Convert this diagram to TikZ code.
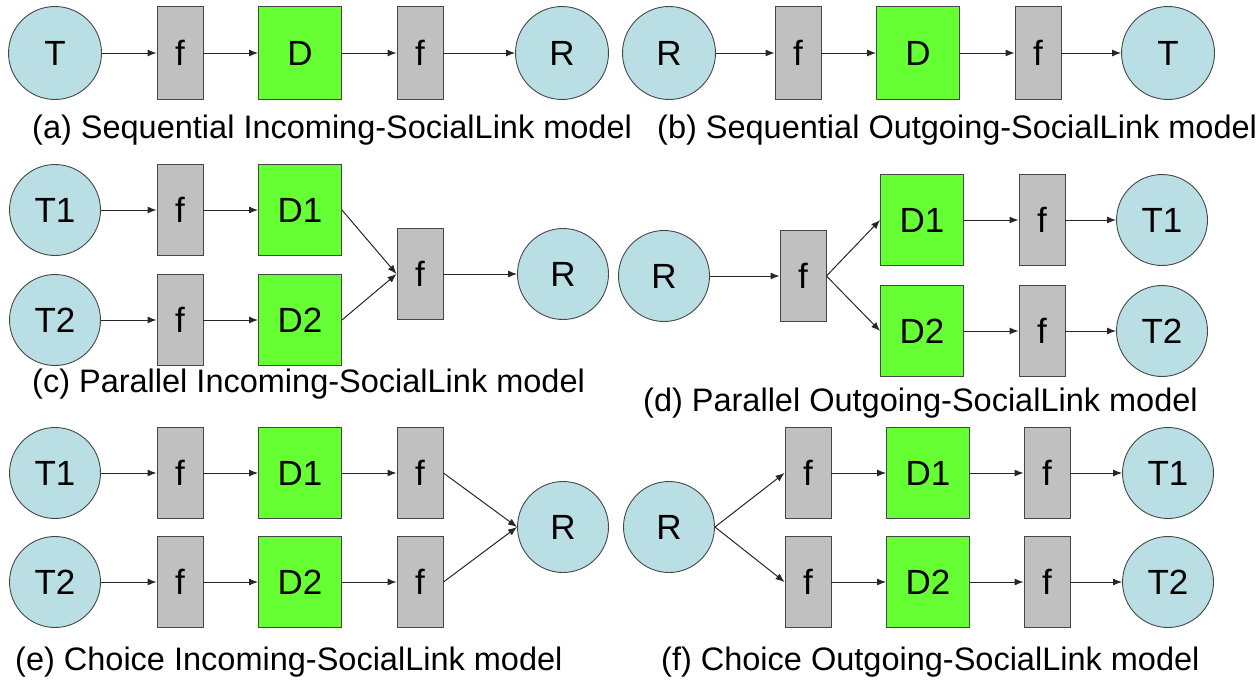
\documentclass[tikz,border=0pt]{standalone}
\usepackage{fontspec}
\setmainfont{Liberation Sans}
\usetikzlibrary{arrows.meta}
\definecolor{agentblue}{RGB}{185,223,228}
\definecolor{funcgray}{RGB}{192,192,192}
\definecolor{datagreen}{RGB}{102,255,51}
\definecolor{outline}{RGB}{70,70,70}
\begin{document}
\begin{tikzpicture}[x=1pt,y=-1pt,
  agent/.style={circle,minimum size=91pt,inner sep=0pt,fill=agentblue,draw=outline,line width=0.9pt,
    font=\fontsize{35}{40}\selectfont},
  func/.style={rectangle,minimum width=46pt,minimum height=91pt,inner sep=0pt,fill=funcgray,draw=outline,line width=0.9pt,
    font=\fontsize{35}{40}\selectfont},
  datum/.style={rectangle,minimum width=83pt,minimum height=91pt,inner sep=0pt,fill=datagreen,draw=outline,line width=0.9pt,
    font=\fontsize{35}{40}\selectfont},
  toprow/.style={minimum height=93pt},
  topagent/.style={minimum size=93pt},
  link/.style={draw=black!85,line width=1pt,-{Latex[length=9pt,width=7pt]}},
  caption/.style={anchor=west,inner sep=0pt,font=\fontsize{32.5}{38}\selectfont}]
\useasboundingbox (0,0) rectangle (1257,680);

% (a) sequential incoming
\node[agent,topagent] (aT) at (55,53) {T};
\node[func,toprow]  (af1) at (180,53) {f};
\node[datum,toprow] (aD) at (300,53) {D};
\node[func,toprow]  (af2) at (420,53) {f};
\node[agent,topagent] (aR) at (562,53) {R};
\draw[link] (aT) -- (af1);
\draw[link] (af1) -- (aD);
\draw[link] (aD) -- (af2);
\draw[link] (af2) -- (aR);
\node[caption] (acap) at (32,130) {(a) Sequential Incoming-SocialLink model};

% (b) sequential outgoing
\node[agent,topagent] (bR) at (669,53) {R};
\node[func,toprow]  (bf1) at (798,53) {f};
\node[datum,toprow] (bD) at (918,53) {D};
\node[func,toprow]  (bf2) at (1038,53) {f};
\node[agent,topagent] (bT) at (1168,53) {T};
\draw[link] (bR) -- (bf1);
\draw[link] (bf1) -- (bD);
\draw[link] (bD) -- (bf2);
\draw[link] (bf2) -- (bT);
\node[caption] (bcap) at (657,130) {(b) Sequential Outgoing-SocialLink model};

% (c) parallel incoming
\node[agent] (cT1) at (55,210) {T1};
\node[agent] (cT2) at (55,320) {T2};
\node[func]  (cf1) at (180,210) {f};
\node[func]  (cf2) at (180,320) {f};
\node[datum] (cD1) at (300,210) {D1};
\node[datum] (cD2) at (300,320) {D2};
\node[func]  (cfm) at (420,274) {f};
\node[agent] (cR) at (563,274) {R};
\draw[link] (cT1) -- (cf1);
\draw[link] (cT2) -- (cf2);
\draw[link] (cf1) -- (cD1);
\draw[link] (cf2) -- (cD2);
\draw[link] (cD1.east) -- (cfm.west);
\draw[link] (cD2.east) -- (cfm.west);
\draw[link] (cfm) -- (cR);
\node[caption] (ccap) at (32,384) {(c) Parallel Incoming-SocialLink model};

% (d) parallel outgoing
\node[agent] (dR) at (664,276) {R};
\node[func]  (dfm) at (803,276) {f};
\node[datum] (dD1) at (922,220) {D1};
\node[datum] (dD2) at (922,331) {D2};
\node[func]  (df1) at (1042,220) {f};
\node[func]  (df2) at (1042,331) {f};
\node[agent] (dT1) at (1162,220) {T1};
\node[agent] (dT2) at (1162,331) {T2};
\draw[link] (dR) -- (dfm);
\draw[link] (dfm.east) -- (dD1.west);
\draw[link] (dfm.east) -- (dD2.west);
\draw[link] (dD1) -- (df1);
\draw[link] (dD2) -- (df2);
\draw[link] (df1) -- (dT1);
\draw[link] (df2) -- (dT2);
\node[caption] (dcap) at (643,403) {(d) Parallel Outgoing-SocialLink model};

% (e) choice incoming
\node[agent] (eT1) at (55,473) {T1};
\node[agent] (eT2) at (55,582) {T2};
\node[func]  (ef1) at (180,473) {f};
\node[func]  (ef2) at (180,582) {f};
\node[datum] (eD1) at (300,473) {D1};
\node[datum] (eD2) at (300,582) {D2};
\node[func]  (eg1) at (420,473) {f};
\node[func]  (eg2) at (420,582) {f};
\node[agent] (eR) at (563,527) {R};
\draw[link] (eT1) -- (ef1);
\draw[link] (eT2) -- (ef2);
\draw[link] (ef1) -- (eD1);
\draw[link] (ef2) -- (eD2);
\draw[link] (eD1) -- (eg1);
\draw[link] (eD2) -- (eg2);
\draw[link] (eg1.east) -- (eR.west);
\draw[link] (eg2.east) -- (eR.west);
\node[caption] (ecap) at (15,662) {(e) Choice Incoming-SocialLink model};

% (f) choice outgoing
\node[agent] (fR) at (669,527) {R};
\node[func]  (ff1) at (808,473) {f};
\node[func]  (ff2) at (808,582) {f};
\node[datum] (fD1) at (928,473) {D1};
\node[datum] (fD2) at (928,582) {D2};
\node[func]  (fg1) at (1047,473) {f};
\node[func]  (fg2) at (1047,582) {f};
\node[agent] (fT1) at (1168,473) {T1};
\node[agent] (fT2) at (1168,582) {T2};
\draw[link] (fR.east) -- (ff1.west);
\draw[link] (fR.east) -- (ff2.west);
\draw[link] (ff1) -- (fD1);
\draw[link] (ff2) -- (fD2);
\draw[link] (fD1) -- (fg1);
\draw[link] (fD2) -- (fg2);
\draw[link] (fg1) -- (fT1);
\draw[link] (fg2) -- (fT2);
\node[caption] (fcap) at (661,662) {(f) Choice Outgoing-SocialLink model};
\end{tikzpicture}
\end{document}
